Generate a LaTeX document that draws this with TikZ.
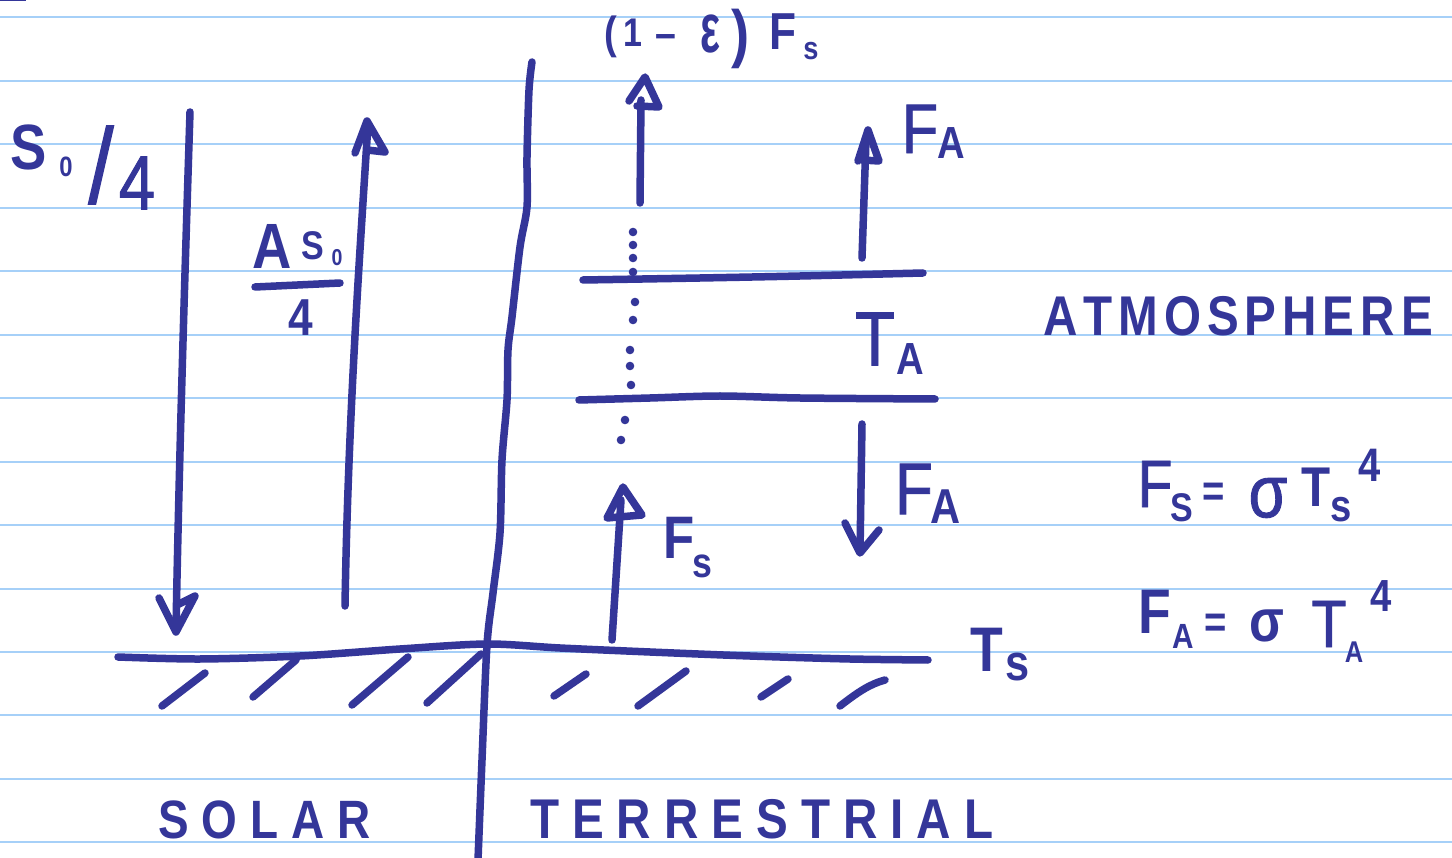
\documentclass[tikz,border=0pt]{standalone}
\usepackage{fontspec}
\setmainfont{Liberation Sans}[FakeStretch=0.85]
\newfontfamily\midfont{Liberation Sans}[FakeStretch=0.85, FakeBold=1.2]
\newfontfamily\epsfont{Liberation Sans Bold}[FakeStretch=0.6]
\definecolor{ink}{RGB}{52,54,153}
\definecolor{ruleblue}{RGB}{166,208,248}
\newcommand\hbf[1]{\fontsize{#1}{#1}\selectfont\bfseries}
\newcommand\hrg[1]{\fontsize{#1}{#1}\selectfont\midfont}
\begin{document}
\begin{tikzpicture}[x=1pt,y=-1pt,
  pen/.style={draw=ink, line width=7.5pt, line cap=round, line join=round},
  hw/.style={text=ink, inner sep=0pt, outer sep=0pt},
  ruled/.style={draw=ruleblue, line width=2pt},
  dotmark/.style={fill=ink}]
\useasboundingbox (0,0) rectangle (1452,858);
\fill[white] (0,0) rectangle (1452,858);
\foreach \k in {0,...,13} \draw[ruled] (0,17.5+63.45*\k) -- (1452,17.5+63.45*\k);
\draw[ink, line width=2pt] (0,0.5) -- (26,0.5);

% divider
\draw[pen] plot[smooth] coordinates {(532,62) (529,90) (527,157) (527,207) (520,247) (512,317) (508,350) (507,400) (502,460) (500,533) (493,593) (487,645) (482,760) (478,860)};
% ground
\draw[pen] plot[smooth] coordinates {(118,657) (200,659) (300,656) (400,649) (487,644) (560,648) (650,652) (750,656) (850,659) (928,660)};
% hatches
\draw[pen] (162,706) -- (205,673);
\draw[pen] (253,697) -- (296,660);
\draw[pen] (352,705) -- (408,657);
\draw[pen] (427,703) -- (481,654);
\draw[pen] (554,696) -- (586,674);
\draw[pen] (638,706) -- (686,671);
\draw[pen] (761,697) -- (788,679);
\draw[pen] (840,706) .. controls (858,692) and (870,684) .. (885,680);

% atmosphere layer
\draw[pen] plot[smooth] coordinates {(583,280) (700,278) (800,276) (923,273)};
\draw[pen] plot[smooth] coordinates {(579,400) (650,398) (720,396) (800,398) (935,399)};

% dotted path
\foreach \p in {(633,232),(633,245),(633,258),(633,272),(635,302),(633,320),(630,350),(630,366),(631,385),(625,420),(621,440)}
  \fill[dotmark] \p circle (4.3);

% arrow 1: S0/4 down
\coordinate (a1t) at (190,112);
\coordinate (a1b) at (176,628);
\draw[pen] (a1t) .. controls (184,300) and (179,470) .. (a1b);
\draw[pen] (159,598) -- (176,632) -- (195,596) -- (177,605);
% arrow 2: AS0/4 up
\coordinate (a2b) at (345,606);
\coordinate (a2t) at (368,124);
\draw[pen] (a2b) .. controls (348,420) and (360,250) .. (a2t);
\draw[pen] (355,153) -- (367,121) -- (385,152) -- (367,150);
% arrow 3: (1-e)Fs up
\coordinate (a3b) at (640,203);
\coordinate (a3t) at (641,100);
\draw[pen] (a3b) -- (a3t);
\draw[pen] (629,101) -- (645,77) -- (659,107) -- (637,106);
% arrow 4: FA up
\coordinate (a4b) at (862,258);
\coordinate (a4t) at (866,140);
\draw[pen] (a4b) -- (a4t);
\draw[pen] (858,161) -- (868,130) -- (879,161) -- (862,160);
% arrow 5: FA down
\coordinate (a5t) at (862,424);
\coordinate (a5b) at (860,552);
\draw[pen] (a5t) -- (a5b);
\draw[pen] (845,523) -- (860,553) -- (879,530);
% arrow 6: Fs up
\coordinate (a6b) at (612,640);
\coordinate (a6t) at (621,500);
\draw[pen] (a6b) -- (a6t);
\draw[pen] (607,518) -- (623,487) -- (642,515) -- cycle;

% S0/4
\node[hw,font=\hbf{64}] (lS) at (29,147) {S};
\node[hw,font=\hbf{28}] (lSo) at (66,167) {0};
\node[hw,font=\hrg{107}] (lSl) at (101,165) {/};
\node[hw,font=\hrg{77}] (lS4) at (137,183) {4};
% AS0/4
\node[hw,font=\hbf{64}] (lA) at (272,246) {A};
\node[hw,font=\hbf{40}] (lAS) at (313,246) {S};
\node[hw,font=\hbf{23}] (lAo) at (337,258) {0};
\draw[pen] (255,287) -- (340,283);
\node[hw,font=\hbf{52}] (lA4) at (301,318) {4};

% (1-eps) Fs
\node[hw,font=\hbf{45}] (p1) at (611,37) {(};
\node[hw,font=\hbf{40}] (p2) at (633,33) {1};
\node[hw,font=\hbf{44}] (p3) at (666,42) {–};
\node[hw,font={\fontsize{70}{70}\selectfont\epsfont}] (p4) at (710,34) {ε};
\node[hw,font=\hbf{64}] (p5) at (741,39) {)};
\node[hw,font=\hbf{52}] (p6) at (783,32) {F};
\node[hw,font=\hbf{32}] (p7) at (811,51) {s};

% FA upper
\node[hw,font=\hrg{70}] (fa1) at (920,129) {F};
\node[hw,font=\hbf{45}] (fa1s) at (951,143) {A};
% TA
\node[hw,font=\hrg{77}] (ta) at (875,339) {T};
\node[hw,font=\hbf{45}] (tas) at (910,359) {A};
% FA lower
\node[hw,font=\hrg{73}] (fa2) at (914,489) {F};
\node[hw,font=\hbf{49}] (fa2s) at (946,507) {A};
% Fs
\node[hw,font=\hbf{60}] (fs) at (679,538) {F};
\node[hw,font=\hbf{42}] (fss) at (702,566) {s};
% Ts
\node[hw,font=\hbf{63}] (ts) at (987,650) {T};
\node[hw,font=\hbf{51}] (tss) at (1018,667) {s};

% ATMOSPHERE
\node[hw,font=\hbf{56},anchor=base west] (atm) at (1043,336)
  {A\kern6pt T\kern6pt M\kern6pt O\kern6pt S\kern6pt P\kern6pt H\kern6pt E\kern6pt R\kern6pt E};

% equation 1
\node[hw,font=\hrg{67}] (e1F) at (1155,484) {F};
\node[hw,font=\hbf{40}] (e1S) at (1182,508) {S};
\node[hw,font=\hbf{45}] (e1eq) at (1214,495) {=};
\node[hw,font=\hrg{74}] (e1sig) at (1268,498) {σ};
\node[hw,font=\hbf{56}] (e1T) at (1316,487) {T};
\node[hw,font=\hbf{45}] (e1s) at (1341,510) {s};
\node[hw,font=\hbf{47}] (e1p) at (1370,465) {4};
% equation 2
\node[hw,font=\hbf{63}] (e2F) at (1155,612) {F};
\node[hw,font=\hbf{35}] (e2A) at (1183,636) {A};
\node[hw,font=\hbf{45}] (e2eq) at (1216,626) {=};
\node[hw,font=\hbf{60}] (e2sig) at (1267,626) {σ};
\node[hw,font=\hrg{67}] (e2T) at (1329,624) {T};
\node[hw,font=\hbf{30}] (e2As) at (1354,652) {A};
\node[hw,font=\hbf{45}] (e2p) at (1381,596) {4};

% SOLAR / TERRESTRIAL
\node[hw,font=\hbf{54},anchor=base west] (solar) at (158,838)
  {S\kern13pt O\kern13pt L\kern13pt A\kern13pt R};
\node[hw,font=\hbf{56},anchor=base west] (terr) at (530,838)
  {T\kern13pt E\kern13pt R\kern13pt R\kern13pt E\kern13pt S\kern13pt T\kern13pt R\kern13pt I\kern13pt A\kern13pt L};
\end{tikzpicture}
\end{document}
